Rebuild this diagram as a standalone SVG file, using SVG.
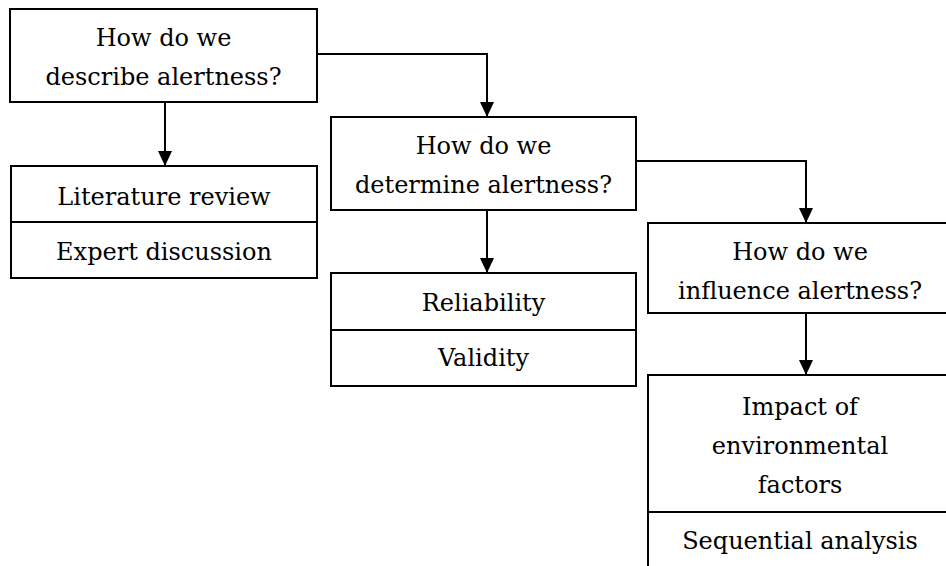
<svg xmlns="http://www.w3.org/2000/svg" width="946" height="566" viewBox="0 0 946 566">
<style>
  .box { fill: #ffffff; stroke: #000000; stroke-width: 2; }
  .div { stroke: #000000; stroke-width: 2; }
  .t { font-family: "DejaVu Serif", "Liberation Serif", serif; font-size: 24px; fill: #000000; text-anchor: middle; }
  .c { fill: none; stroke: #000000; stroke-width: 2; }
</style>
<defs>
  <marker id="ah" viewBox="0 0 15 14" refX="15" refY="7" markerWidth="15" markerHeight="14" markerUnits="userSpaceOnUse" orient="auto">
    <path d="M0,0 L15,7 L0,14 z" fill="#000000"/>
  </marker>
</defs>
<rect width="946" height="566" fill="#ffffff"/>
<g id="connectors">
  <path class="c" d="M317,54 H487 V117" marker-end="url(#ah)"/>
  <path class="c" d="M165,102 V166" marker-end="url(#ah)"/>
  <path class="c" d="M636,161 H806 V223" marker-end="url(#ah)"/>
  <path class="c" d="M487,210 V273" marker-end="url(#ah)"/>
  <path class="c" d="M806,313 V375" marker-end="url(#ah)"/>
</g>
<g id="describe">
  <rect class="box" x="10" y="9" width="307" height="93"/>
  <text class="t" x="163.5" y="46">How do we</text>
  <text class="t" x="163.5" y="85">describe alertness?</text>
</g>
<g id="describe-methods">
  <rect class="box" x="11" y="166" width="306" height="112"/>
  <line class="div" x1="11" y1="222" x2="317" y2="222"/>
  <text class="t" x="164" y="205">Literature review</text>
  <text class="t" x="164" y="260">Expert discussion</text>
</g>
<g id="determine">
  <rect class="box" x="331" y="117" width="305" height="93"/>
  <text class="t" x="483.5" y="154">How do we</text>
  <text class="t" x="483.5" y="193">determine alertness?</text>
</g>
<g id="determine-methods">
  <rect class="box" x="331" y="273" width="305" height="113"/>
  <line class="div" x1="331" y1="330" x2="636" y2="330"/>
  <text class="t" x="483.5" y="311">Reliability</text>
  <text class="t" x="483.5" y="366">Validity</text>
</g>
<g id="influence">
  <rect class="box" x="648" y="223" width="320" height="90"/>
  <text class="t" x="800" y="260">How do we</text>
  <text class="t" x="800" y="299">influence alertness?</text>
</g>
<g id="influence-methods">
  <rect class="box" x="648" y="375" width="320" height="220"/>
  <line class="div" x1="648" y1="512" x2="968" y2="512"/>
  <text class="t" x="800" y="415">Impact of</text>
  <text class="t" x="800" y="454">environmental</text>
  <text class="t" x="800" y="493">factors</text>
  <text class="t" x="800" y="549">Sequential analysis</text>
</g>
</svg>
